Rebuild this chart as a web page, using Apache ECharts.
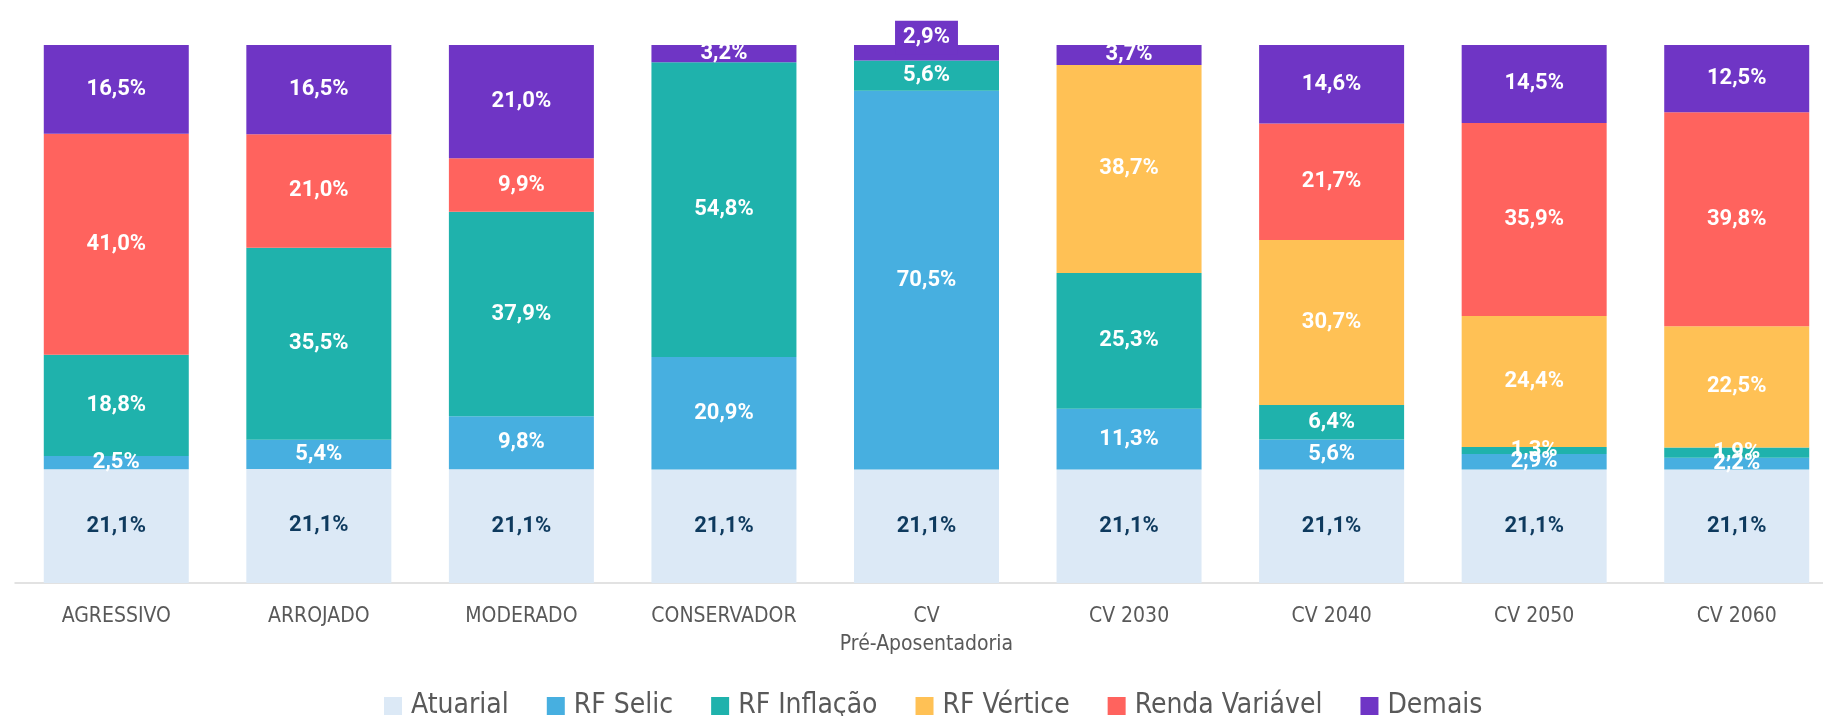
<!DOCTYPE html>
<html>
<head>
<meta charset="utf-8">
<script src="https://cdn.jsdelivr.net/npm/echarts@6/dist/echarts.min.js"></script>
<style>
  html, body { margin: 0; padding: 0; background: #fff; overflow: hidden; }
  #chart { width: 1838px; height: 716px; }
</style>
</head>
<body>
<div id="chart"></div>
<script>
// categorias e composição (%)
let categories = ['AGRESSIVO', 'ARROJADO', 'MODERADO', 'CONSERVADOR', 'CV\nPré-Aposentadoria', 'CV 2030', 'CV 2040', 'CV 2050', 'CV 2060'];
let atuarial    = [21.1, 21.1, 21.1, 21.1, 21.1, 21.1, 21.1, 21.1, 21.1];
let rfSelic     = [2.5, 5.4, 9.8, 20.9, 70.5, 11.3, 5.6, 2.9, 2.2];
let rfInflacao  = [18.8, 35.5, 37.9, 54.8, 5.6, 25.3, 6.4, 1.3, 1.9];
let rfVertice   = [0, 0, 0, 0, 0, 38.7, 30.7, 24.4, 22.5];
let rendaVar    = [41.0, 21.0, 9.9, 0, 0, 0, 21.7, 35.9, 39.8];
let demais      = [16.5, 16.5, 21.0, 3.2, 2.9, 3.7, 14.6, 14.5, 12.5];

let seriesDefs = [
    {name: 'Atuarial', data: atuarial, color: '#dce9f6', text: '#0e3a5e'},
    {name: 'RF Selic', data: rfSelic, color: '#47afe0', text: '#ffffff'},
    {name: 'RF Inflação', data: rfInflacao, color: '#1fb2ac', text: '#ffffff'},
    {name: 'RF Vértice', data: rfVertice, color: '#ffc155', text: '#ffffff'},
    {name: 'Renda Variável', data: rendaVar, color: '#ff635e', text: '#ffffff'},
    {name: 'Demais', data: demais, color: '#6f35c5', text: '#ffffff'}
];

// 100% empilhado, como no Excel
let totals = categories.map(function(c, i){
    let s = 0;
    seriesDefs.forEach(function(d){ s += d.data[i]; });
    return s;
});

let fmt = function(v){ return v.toFixed(1).replace('.', ',') + '%'; };
let narrow = "'Liberation Sans Narrow', 'DejaVu Sans Condensed', sans-serif";

let series = seriesDefs.map(function(d){
    return {
        name: d.name,
        type: 'bar',
        stack: 'total',
        barWidth: 145,
        itemStyle: {color: d.color},
        label: {
            show: true,
            position: 'inside',
            color: d.text,
            fontFamily: 'Roboto',
            fontWeight: 'bold',
            fontSize: 22,
            formatter: function(p){ return p.data.raw ? fmt(p.data.raw) : ''; }
        },
        data: d.data.map(function(v, i){
            let item = {value: v ? v / totals[i] * 100 : null, raw: v};
            // rótulo do CV que não cabe no segmento
            if (d.name === 'Demais' && i === 4) {
                item.label = {backgroundColor: d.color, padding: [6, 8, 6, 8], offset: [0, -15]};
            }
            return item;
        })
    };
});

let chart = echarts.init(document.getElementById('chart'));
chart.setOption({
    animation: false,
    grid: {left: 15, top: 45, right: 0, bottom: 133, containLabel: false},
    legend: {
        top: 687,
        left: 379,
        icon: 'rect',
        itemWidth: 18,
        itemHeight: 18,
        itemGap: 38,
        textStyle: {fontFamily: narrow, fontSize: 28, color: '#595959', padding: [0, 0, 0, 4]},
        data: seriesDefs.map(function(d){ return d.name; })
    },
    xAxis: {
        type: 'category',
        data: categories,
        axisLine: {lineStyle: {color: '#d9d9d9', width: 1.5}},
        axisTick: {show: false},
        axisLabel: {fontFamily: narrow, fontSize: 21, color: '#595959', margin: 20, lineHeight: 28, interval: 0}
    },
    yAxis: {
        type: 'value',
        min: 0,
        max: 100,
        show: false,
        splitLine: {show: false}
    },
    series: series
});
</script>
</body>
</html>
